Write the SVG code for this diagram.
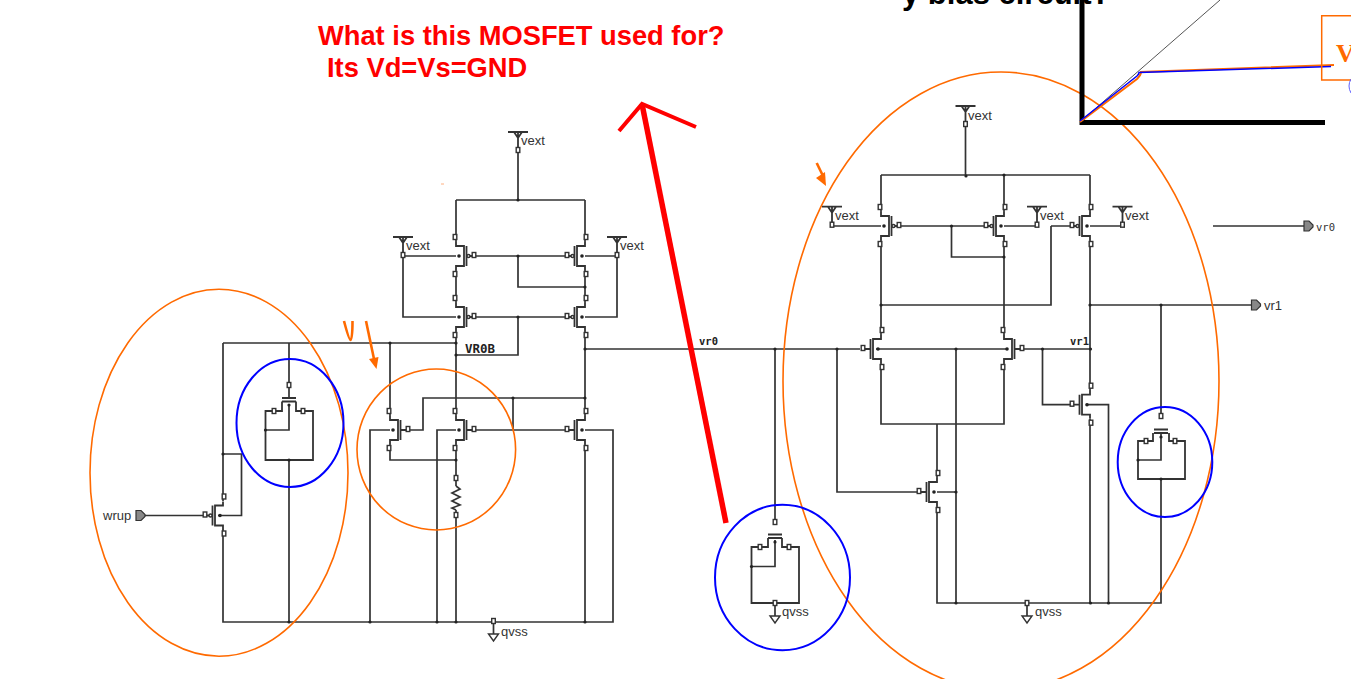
<svg xmlns="http://www.w3.org/2000/svg" width="1351" height="679" viewBox="0 0 1351 679">
<style>
.w{fill:none;stroke:#333;stroke-width:1.7}
.t{fill:none;stroke:#333;stroke-width:1.8}
.p{fill:#fff;stroke:#333;stroke-width:1.4}
.d{fill:#222;stroke:none}
.o{fill:none;stroke:#ff6a00;stroke-width:1.6}
.o2{fill:none;stroke:#ff6a00;stroke-width:2.6}
.of{fill:#ff6a00;stroke:none}
.b{fill:none;stroke:#0000ff;stroke-width:2}
.l{font-family:"Liberation Sans",Arial,sans-serif;font-size:13px;fill:#333}
.m{font-family:"DejaVu Sans Mono",monospace;font-weight:bold;fill:#222}
.n{font-family:"DejaVu Sans Mono",monospace;fill:#333}
.r{font-family:"Liberation Sans",Arial,sans-serif;font-weight:bold;font-size:27.3px;fill:#ff0000}
.g{fill:#888;stroke:#333;stroke-width:1.2}
</style>
<defs>
<rect id="pad" class="p" x="-1.8" y="-2.500" width="3.600" height="5"/>
<circle id="dot" class="d" r="1.6"/>
<g id="mos">
<path class="t" d="M0,-14V-10H8V10H0V14M8,-10V10M10.5,-10V10M10.5,0H18"/>
<use href="#pad" x="-1" y="-19"/><use href="#pad" x="-1" y="18"/><use href="#pad" x="18" y="-1"/>
<circle class="d" cx="3" cy="0" r="1.8"/>
</g>
<circle id="bub" class="p" cx="12.5" cy="0" r="1.5"/>
<g id="vdd">
<path class="t" d="M-10,0H10M-4,0L0,6L4,0M0,0V17"/>
<use href="#pad" y="18"/>
</g>
<g id="gnd">
<path class="w" d="M0,0V13"/>
<path class="p" d="M-5,13H5L0,20Z"/>
<use href="#pad" y="0"/>
</g>
<path id="out" class="g" d="M0,-5H5L9,-1V1L5,5H0Z"/>
<g id="gate">
<path class="t" d="M-7,0H7M-7,3.5H7"/>
</g>
</defs>

<g id="connectors">
<path class="w" d="M518,149V200M456,200H585M456,200V242M585,200V242"/>
<path class="w" d="M403,256H456M403,256V317H456M617,256H585M617,256V317H585"/>
<path class="w" d="M474,256H565M518,256V287H585M474,317H565M518,317V355H456"/>
<path class="w" d="M456,270V303M585,270V303M456,331V416M585,331V416"/>
<path class="w" d="M223,343H456M390,343V416M223,343V501M223,529V622H613V430H585"/>
<path class="w" d="M218,515.500H241.500V454H223M145,515.500H203"/>
<path class="w" d="M408,430H423V398H585M513,398V430M474,430H565"/>
<path class="w" d="M390,444V460H456M456,444V486M456,510V622M585,444V622"/>
<path class="w" d="M390,430H370V622M456,430H437V622"/>
<path class="w" d="M289,343V398M289,405V430H265.500M289,460V622"/>
<path class="w" d="M585,349H860M775,349V522"/>
<path class="w" d="M965.500,125V175M881,175H1090M881,175V212M1004,175V212M1090,175V212"/>
<path class="w" d="M832,226H881M899,226H984M951.500,226V257H1004M1004,226H1037M1051,226H1070M1051,226V305H881M1090,226H1122"/>
<path class="w" d="M881,240V335M1004,240V335M1090,240V391M1090,305H1252M1161,305V416M1213,226H1304"/>
<path class="w" d="M876,349H1007M1021,349H1090M956,349V603M837,349V492H917M937,492H956"/>
<path class="w" d="M881,363V424H1004V363M937,424V478M937,506V603H1161V479M1042.500,349V404.700H1070M1086,404.700H1108.500V603M1090,419V603"/>
<g id="junctions">
<use href="#dot" x="518" y="200"/><use href="#dot" x="518" y="256"/><use href="#dot" x="518" y="317"/>
<use href="#dot" x="585" y="287"/><use href="#dot" x="456" y="355"/><use href="#dot" x="585" y="349"/>
<use href="#dot" x="390" y="343"/><use href="#dot" x="456" y="343"/><use href="#dot" x="513" y="398"/><use href="#dot" x="585" y="398"/>
<use href="#dot" x="456" y="460"/><use href="#dot" x="370" y="622"/><use href="#dot" x="437" y="622"/><use href="#dot" x="456" y="622"/><use href="#dot" x="585" y="622"/>
<use href="#dot" x="223" y="454"/><use href="#dot" x="289" y="622"/><use href="#dot" x="775" y="349"/>
<use href="#dot" x="966" y="176"/><use href="#dot" x="1004" y="175"/><use href="#dot" x="951.500" y="226"/><use href="#dot" x="1004" y="257"/>
<use href="#dot" x="881" y="305"/><use href="#dot" x="1090" y="305"/><use href="#dot" x="1161" y="305"/>
<use href="#dot" x="837" y="349"/><use href="#dot" x="956" y="349"/><use href="#dot" x="1042.500" y="349"/><use href="#dot" x="1090.500" y="349"/>
<use href="#dot" x="956" y="492"/><use href="#dot" x="956" y="603"/><use href="#dot" x="1090.500" y="603"/><use href="#dot" x="1108.500" y="603"/>
</g>
</g>

<g id="M1"><use href="#mos" transform="translate(456,256)"/><use href="#bub" transform="translate(456,256)"/></g>
<g id="M2"><use href="#mos" transform="translate(585,256) scale(-1,1)"/><use href="#bub" transform="translate(585,256) scale(-1,1)"/></g>
<g id="M3"><use href="#mos" transform="translate(456,317)"/><use href="#bub" transform="translate(456,317)"/></g>
<g id="M4"><use href="#mos" transform="translate(585,317) scale(-1,1)"/><use href="#bub" transform="translate(585,317) scale(-1,1)"/></g>
<g id="M5"><use href="#mos" transform="translate(390,430)"/></g>
<g id="M6"><use href="#mos" transform="translate(456,430)"/></g>
<g id="M7"><use href="#mos" transform="translate(585,430) scale(-1,1)"/></g>
<g id="M8"><use href="#mos" transform="translate(223,515.500) scale(-1,1)"/><use href="#bub" transform="translate(223,515.500) scale(-1,1)"/></g>
<g id="R1"><path class="w" d="M456,486L460,489L452,493L460,497L452,501L460,505L452,508L456,510"/><use href="#pad" x="456" y="478"/><use href="#pad" x="456" y="515"/></g>

<g id="C1">
<use href="#pad" x="289" y="385"/><use href="#gate" transform="translate(289,398)"/>
<path class="t" d="M282,401.500V411H265.500V460H313V411H296V401.500"/>
<use href="#pad" x="274" y="411"/><use href="#pad" x="303" y="411"/><use href="#dot" x="289" y="405"/><use href="#dot" x="265.500" y="430"/><use href="#dot" x="289" y="460"/>
</g>
<g id="C2">
<path class="w" d="M775,540V566.500H751.500"/>
<use href="#pad" x="775" y="522"/><use href="#gate" transform="translate(775,534.500)"/>
<path class="t" d="M768,538V547H751.500V603H799V547H782V538"/>
<use href="#pad" x="760" y="547"/><use href="#pad" x="789" y="547"/><use href="#dot" x="775" y="542"/><use href="#dot" x="751.500" y="566.500"/>
</g>
<g id="C3">
<path class="w" d="M1161,434V460H1138"/>
<use href="#pad" x="1161" y="416"/><use href="#gate" transform="translate(1161,429.500)"/>
<path class="t" d="M1153,433V441H1138V479H1185V441H1169V433"/>
<use href="#pad" x="1146" y="441"/><use href="#pad" x="1175" y="441"/><use href="#dot" x="1161" y="437"/><use href="#dot" x="1138" y="460"/><use href="#dot" x="1161" y="479"/>
</g>

<g id="M9"><use href="#mos" transform="translate(881,226)"/><use href="#bub" transform="translate(881,226)"/></g>
<g id="M10"><use href="#mos" transform="translate(1004,226) scale(-1,1)"/><use href="#bub" transform="translate(1004,226) scale(-1,1)"/></g>
<g id="M11"><use href="#mos" transform="translate(1090,226) scale(-1,1)"/><use href="#bub" transform="translate(1090,226) scale(-1,1)"/></g>
<g id="M12"><use href="#mos" transform="translate(881,349) scale(-1,1)"/></g>
<g id="M13"><use href="#mos" transform="translate(1004,349)"/></g>
<g id="M14"><use href="#mos" transform="translate(937,492) scale(-1,1)"/></g>
<g id="M15"><use href="#mos" transform="translate(1090,404.700) scale(-1,1)"/></g>

<g id="vext1"><use href="#vdd" transform="translate(518,132)"/><text class="l" x="521" y="145">vext</text></g>
<g id="vext2"><use href="#vdd" transform="translate(403,237)"/><text class="l" x="406" y="250">vext</text></g>
<g id="vext3"><use href="#vdd" transform="translate(617,237)"/><text class="l" x="620" y="250">vext</text></g>
<g id="vext4"><use href="#vdd" transform="translate(965.500,106)"/><text class="l" x="968" y="120">vext</text></g>
<g id="vext5"><use href="#vdd" transform="translate(832,206.700)"/><text class="l" x="835" y="219.500">vext</text></g>
<g id="vext6"><use href="#vdd" transform="translate(1037,206.700)"/><text class="l" x="1040" y="219.500">vext</text></g>
<g id="vext7"><use href="#vdd" transform="translate(1122.500,206.700)"/><text class="l" x="1125" y="219.500">vext</text></g>

<g id="qvss1"><use href="#gnd" transform="translate(493.500,621)"/><text class="l" x="501" y="636">qvss</text></g>
<g id="qvss2"><use href="#gnd" transform="translate(775,603)"/><text class="l" x="782" y="616">qvss</text></g>
<g id="qvss3"><use href="#gnd" transform="translate(1027,603)"/><text class="l" x="1035" y="616">qvss</text></g>

<g id="wrup"><use href="#out" transform="translate(136,515.500)"/><text class="l" x="103" y="520">wrup</text></g>
<g id="vr0out"><use href="#out" transform="translate(1304,226)"/><text class="n" x="1316" y="230.500" font-size="10.500">vr0</text></g>
<g id="vr1out"><use href="#out" transform="translate(1251.500,305)"/><text class="l" x="1264" y="310">vr1</text></g>

<g id="labels">
<text class="m" x="465" y="353" font-size="12.500">VR0B</text>
<text class="m" x="699" y="345" font-size="10.500">vr0</text>
<text class="m" x="1070" y="345" font-size="10.500">vr1</text>
</g>

<g id="highlights">
<ellipse class="o" cx="219" cy="472.700" rx="129" ry="183.500"/>
<ellipse class="o" cx="436.300" cy="449.500" rx="79.300" ry="80.500"/>
<ellipse class="o" cx="1001" cy="381" rx="218" ry="309"/>
<ellipse class="b" cx="290" cy="423" rx="53.500" ry="64"/>
<ellipse class="b" cx="782.500" cy="577.500" rx="67.500" ry="72.700"/>
<ellipse class="b" cx="1165" cy="462" rx="47.300" ry="55"/>
<path class="o2" d="M344,321Q349,340 350.500,340Q352.500,340 352.500,321"/>
<path class="o2" d="M366,321L374,359"/>
<path class="of" d="M369,359L378.500,357L376.500,369Z"/>
<path class="o2" d="M816.700,163L824,178"/>
<path class="of" d="M816,178L825,172L826,186Z"/>
<path d="M441,184H444" stroke="#ffb080" stroke-width="1"/>
</g>

<g id="annotation">
<path d="M726,523L642,104" fill="none" stroke="#ff0000" stroke-width="5.500"/>
<path d="M619,131L642,104L696,127" fill="none" stroke="#ff0000" stroke-width="4"/>
<text class="r" x="318" y="45">What is this MOSFET used for?</text>
<text class="r" x="327" y="77">Its Vd=Vs=GND</text>
</g>

<g id="chart">
<text x="902" y="4" font-family="Liberation Sans,Arial,sans-serif" font-weight="bold" font-size="31" fill="#000">y bias circuit?</text>
<path d="M1082,0V125M1079.500,122.500H1325" fill="none" stroke="#000" stroke-width="5"/>
<path d="M1080,122L1220,0" fill="none" stroke="#555" stroke-width="1"/>
<path d="M1080,122L1137,79Q1141,75 1141,72L1334,65" fill="none" stroke="#ff6a00" stroke-width="2"/>
<path d="M1080,121L1137,76Q1139,74 1139,72.500L1331,66.500" fill="none" stroke="#0000ff" stroke-width="1.500"/>
<path d="M1351,15.700H1321.700V80H1351" fill="none" stroke="#ff6a00" stroke-width="1.500"/>
<text x="1336" y="62" font-family="Liberation Serif,serif" font-weight="bold" font-size="26" fill="#ff6a00">V</text>
<path d="M1351,79Q1347,86 1351,93" fill="none" stroke="#6060ff" stroke-width="1"/>
</g>
</svg>
